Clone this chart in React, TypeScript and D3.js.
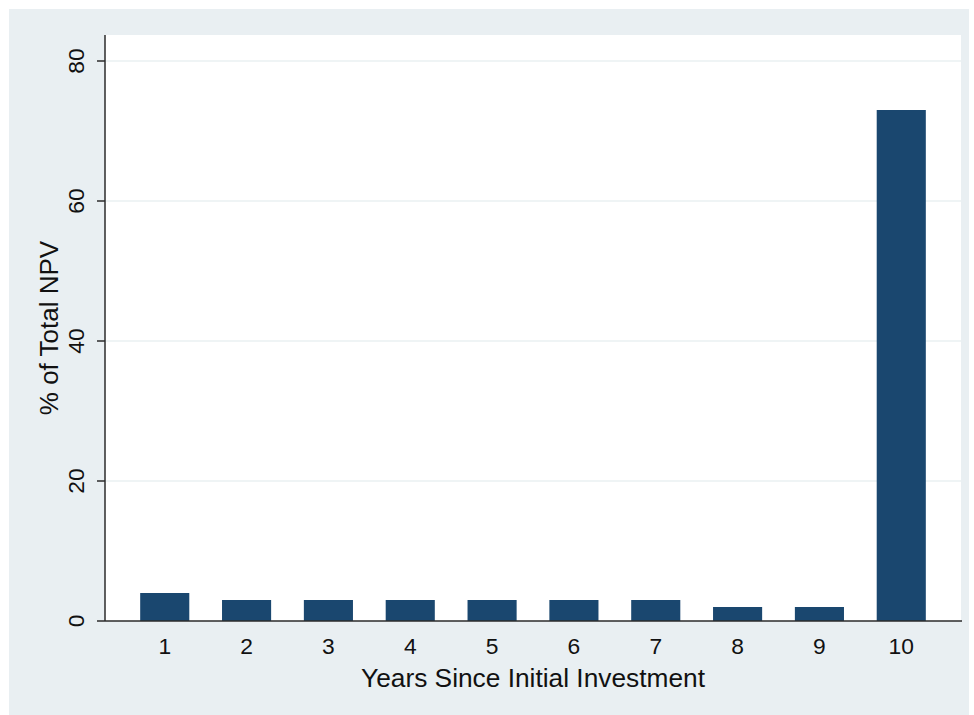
import React from "react";
import * as d3 from "d3";

const years = ["1", "2", "3", "4", "5", "6", "7", "8", "9", "10"];
const npvShare = [4, 3, 3, 3, 3, 3, 3, 2, 2, 73];
const yTicks = [0, 20, 40, 60, 80];

const W = 974;
const H = 715;
const plot = { left: 105, right: 961, top: 35, bottom: 621 };
const FONT = "'Liberation Sans', Arial, sans-serif";

export default function App() {
  const x = d3
    .scaleBand<string>()
    .domain(years)
    .range([plot.left, plot.right])
    .paddingInner(0.4)
    .paddingOuter(0.43);
  const y = d3.scaleLinear().domain([0, 80]).range([plot.bottom, 61]);

  return (
    <div style={{ position: "absolute", left: 0, top: 0 }}>
      <svg width={W} height={H} style={{ display: "block" }}>
        <rect x={0} y={0} width={W} height={H} fill="#ffffff" />
        <rect x={9} y={9} width={960} height={H - 9} fill="#e9eff2" />
        <rect
          x={plot.left}
          y={plot.top}
          width={plot.right - plot.left}
          height={plot.bottom - plot.top}
          fill="#ffffff"
        />
        {yTicks
          .filter((t) => t > 0)
          .map((t) => (
            <line
              key={"g" + t}
              x1={plot.left}
              x2={plot.right}
              y1={y(t)}
              y2={y(t)}
              stroke="#eaf0f2"
              strokeWidth={1.5}
            />
          ))}
        {npvShare.map((v, i) => (
          <rect
            key={years[i]}
            x={x(years[i])}
            y={y(v)}
            width={x.bandwidth()}
            height={y(0) - y(v)}
            fill="#1a476f"
          />
        ))}
        <line
          x1={plot.left}
          x2={plot.left}
          y1={plot.top}
          y2={plot.bottom}
          stroke="#2b2b2b"
          strokeWidth={1.5}
        />
        <line
          x1={plot.left}
          x2={plot.right + 1}
          y1={plot.bottom}
          y2={plot.bottom}
          stroke="#2b2b2b"
          strokeWidth={1.5}
        />
        {yTicks.map((t) => (
          <g key={"t" + t}>
            <line
              x1={plot.left - 8}
              x2={plot.left}
              y1={y(t)}
              y2={y(t)}
              stroke="#2b2b2b"
              strokeWidth={1.5}
            />
            <text
              transform={`translate(83.5,${y(t)}) rotate(-90)`}
              textAnchor="middle"
              fontFamily={FONT}
              fontSize={22.8}
              fill="#111"
            >
              {t}
            </text>
          </g>
        ))}
        {years.map((yr) => (
          <text
            key={"x" + yr}
            x={(x(yr) as number) + x.bandwidth() / 2}
            y={654}
            textAnchor="middle"
            fontFamily={FONT}
            fontSize={22.8}
            fill="#111"
          >
            {yr}
          </text>
        ))}
        <text
          x={(plot.left + plot.right) / 2}
          y={686.5}
          textAnchor="middle"
          fontFamily={FONT}
          fontSize={26.3}
          fill="#111"
        >
          Years Since Initial Investment
        </text>
        <text
          transform={`translate(58,${(plot.top + plot.bottom) / 2}) rotate(-90)`}
          textAnchor="middle"
          fontFamily={FONT}
          fontSize={26}
          fill="#111"
        >
          % of Total NPV
        </text>
      </svg>
    </div>
  );
}
